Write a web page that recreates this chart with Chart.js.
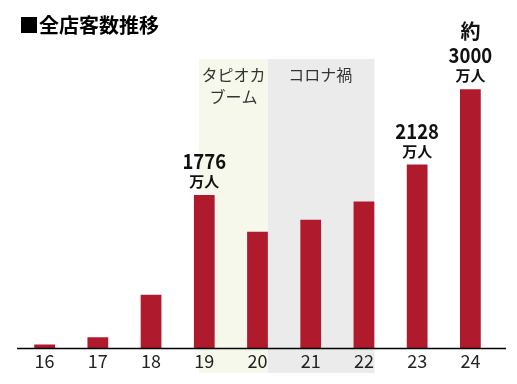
<!DOCTYPE html>
<html><head><meta charset="utf-8">
<script src="https://cdn.jsdelivr.net/npm/chart.js@4"></script>
<style>html,body{margin:0;padding:0;background:#fff;}#wrap{position:relative;width:517px;height:384px;}</style>
</head><body><div id="wrap"><canvas id="c" width="517" height="384"></canvas></div>
<script>
const categories = ["16","17","18","19","20","21","22","23","24"];
const visitors = [45, 130, 620, 1776, 1350, 1490, 1700, 2128, 3000];
const valueLabels = [null, null, null, ["1776","万人"], null, null, null, ["2128","万人"], ["約","3000","万人"]];
const bands = [
  {from: 3, to: 4, label: ["タピオカ","ブーム"], color: "#f5f8ea"},
  {from: 5, to: 6, label: ["コロナ禍"], color: "#ebebeb"}
];
const title = "■全店客数推移";
const FONT = "'Noto Sans CJK JP','Noto Sans',sans-serif";

function narrowText(ctx, t, x, y, sx) {
  ctx.save(); ctx.translate(x, y); ctx.scale(sx, 1); ctx.fillText(t, 0, 0); ctx.restore();
}

const deco = {
  id: 'deco',
  beforeDraw(chart) {
    const ctx = chart.ctx, x = chart.scales.x;
    const step = x.getPixelForValue(1) - x.getPixelForValue(0);
    const top = 59, bottom = 373;
    ctx.save();
    const b0 = bands[0], b1 = bands[1];
    const t0 = x.getPixelForValue(b0.from) - 0.1 * step;
    const t1 = x.getPixelForValue(b0.to) + 0.197 * step;
    const c1 = x.getPixelForValue(b1.to) + 0.197 * step;
    ctx.fillStyle = b0.color; ctx.fillRect(t0, top, t1 - t0, bottom - top);
    ctx.fillStyle = b1.color; ctx.fillRect(t1, top, c1 - t1, bottom - top);
    ctx.fillStyle = "#333";
    ctx.font = "16px " + FONT;
    ctx.textAlign = "center"; ctx.textBaseline = "middle";
    b0.label.forEach((l, i) => ctx.fillText(l, (t0 + t1) / 2, 75 + i * 22));
    b1.label.forEach((l, i) => ctx.fillText(l, (t1 + c1) / 2 - 1, 75 + i * 22));
    ctx.fillStyle = "#000";
    ctx.font = "bold 20px " + FONT;
    ctx.textAlign = "left";
    ctx.fillText(title, 19, 25);
    ctx.restore();
  },
  afterDatasetsDraw(chart) {
    const ctx = chart.ctx, meta = chart.getDatasetMeta(0);
    ctx.save();
    ctx.fillStyle = "#111";
    ctx.textAlign = "center"; ctx.textBaseline = "middle";
    valueLabels.forEach((lab, i) => {
      if (!lab) return;
      const el = meta.data[i];
      const n = lab.length;
      lab.forEach((t, j) => {
        const fromBottom = n - 1 - j;
        if (fromBottom === 0) { ctx.font = "bold 15px " + FONT; narrowText(ctx, t, el.x, el.y - 13.5, 1); }
        else if (fromBottom === 1) { ctx.font = "bold 21px " + FONT; narrowText(ctx, t, el.x, el.y - 34, 0.88); }
        else { ctx.font = "bold 20px " + FONT; narrowText(ctx, t, el.x, el.y - 58, 1); }
      });
    });
    const yb = chart.scales.y.getPixelForValue(0);
    ctx.strokeStyle = "#000"; ctx.lineWidth = 1.5;
    ctx.beginPath(); ctx.moveTo(17, yb); ctx.lineTo(506, yb); ctx.stroke();
    ctx.restore();
  }
};

new Chart(document.getElementById('c'), {
  type: 'bar',
  data: { labels: categories, datasets: [{ data: visitors, backgroundColor: "#b01a2d", barPercentage: 0.39, categoryPercentage: 1 }] },
  options: {
    responsive: false, animation: false,
    layout: { padding: { top: 59, left: 18, right: 20, bottom: 10 } },
    plugins: { legend: { display: false }, tooltip: { enabled: false } },
    scales: {
      x: { grid: { display: false, drawTicks: false, tickLength: 0 }, border: { display: false },
           ticks: { color: "#222", font: { size: 18, family: FONT }, padding: 2 } },
      y: { display: false, min: 0, max: 3350 }
    }
  },
  plugins: [deco]
});
</script></body></html>
